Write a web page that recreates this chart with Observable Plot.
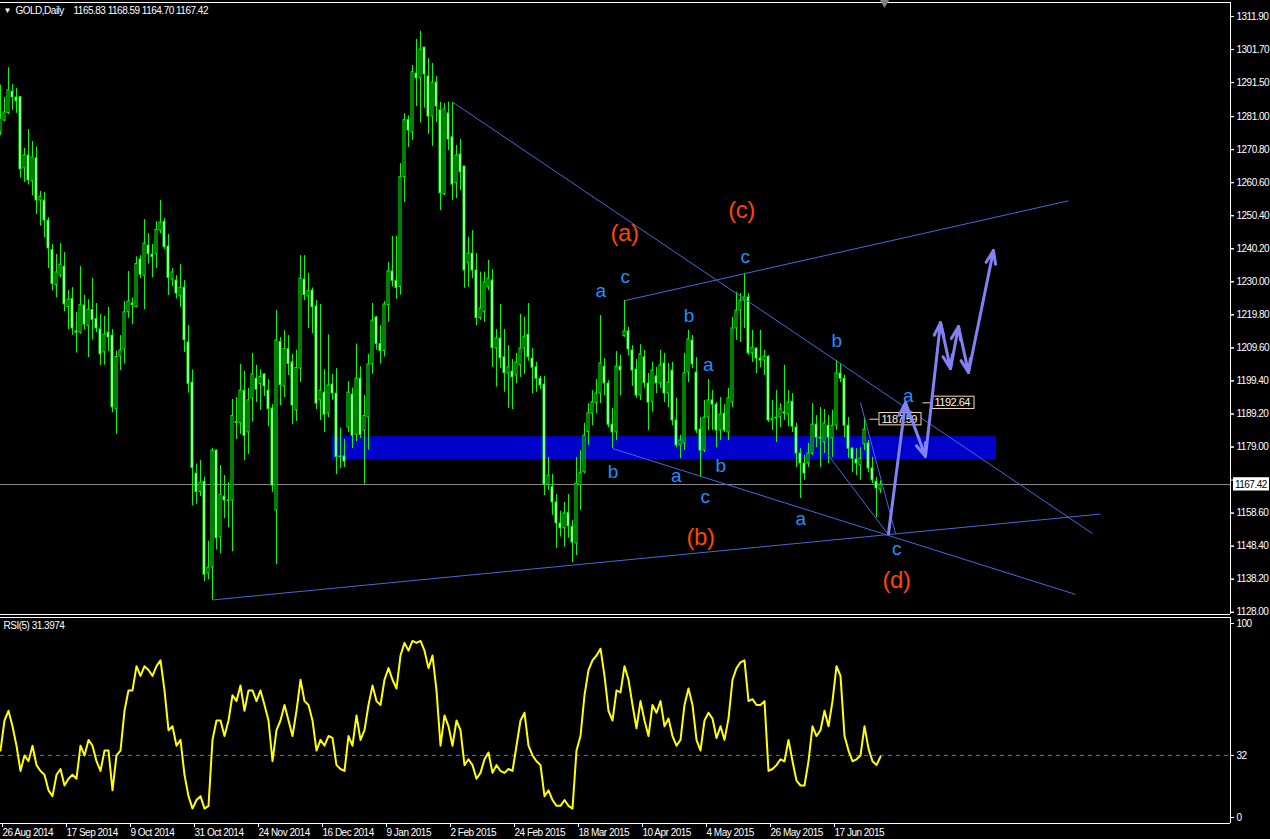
<!DOCTYPE html>
<html><head><meta charset="utf-8">
<script src="https://cdn.jsdelivr.net/npm/d3@7"></script>
<script src="https://cdn.jsdelivr.net/npm/@observablehq/plot@0.6"></script>
<style>
html,body{margin:0;padding:0;background:#000;}
#wrap{position:relative;width:1270px;height:839px;background:#000;overflow:hidden;}
#price{position:absolute;left:0;top:0;}
#rsi{position:absolute;left:0;top:616px;}
</style></head>
<body><div id="wrap"><div id="price"></div><div id="rsi"></div></div>
<script>
// ---- data (daily bars, index 0 = 26 Aug 2014) ----
const openP = [1276.1,1279.8,1282.1,1288.7,1286.9,1287.0,1265.0,1269.0,1261.0,1268.1,
1255.1,1255.1,1248.9,1239.8,1229.0,1231.9,1234.7,1222.2,1224.7,1214.7,
1214.3,1222.7,1216.3,1221.3,1218.5,1215.3,1208.2,1214.3,1213.4,1190.6,
1206.9,1209.1,1220.6,1223.3,1222.2,1236.9,1231.9,1241.2,1238.4,1238.5,
1245.8,1248.5,1240.9,1230.7,1230.4,1225.5,1228.2,1211.3,1198.9,1170.8,
1165.1,1168.3,1139.9,1141.8,1177.9,1151.1,1163.7,1162.5,1162.5,1186.7,
1186.3,1196.4,1183.5,1194.0,1200.1,1198.4,1201.4,1196.4,1190.9,1159.4,
1211.4,1197.7,1209.2,1205.1,1190.3,1203.2,1230.7,1225.5,1227.3,1222.4,
1193.4,1195.8,1189.3,1198.3,1195.5,1176.1,1176.1,1185.0,1195.2,1182.8,
1200.1,1184.1,1188.1,1204.5,1219.0,1210.8,1208.6,1222.8,1233.2,1230.3,
1228.4,1262.3,1279.9,1276.1,1294.3,1292.8,1302.3,1293.4,1281.0,1291.5,
1282.9,1257.0,1282.0,1274.6,1260.4,1269.3,1265.6,1235.7,1238.7,1233.5,
1218.8,1220.6,1228.3,1230.4,1209.4,1212.5,1206.7,1201.7,1202.3,1201.1,
1204.2,1209.4,1213.7,1206.3,1203.6,1200.1,1198.3,1167.4,1166.6,1161.9,
1155.4,1153.9,1158.6,1154.4,1149.2,1167.1,1171.2,1183.6,1189.3,1192.5,
1195.5,1203.8,1198.6,1185.9,1183.5,1203.8,1213.2,1214.7,1208.8,1202.9,
1194.9,1206.7,1198.6,1192.8,1200.8,1198.6,1204.8,1195.5,1202.6,1187.2,
1179.5,1180.1,1202.0,1211.9,1202.0,1184.4,1177.9,1188.1,1193.4,1192.1,
1184.1,1189.3,1183.5,1192.7,1215.6,1221.1,1224.2,1225.2,1207.9,1209.4,
1206.3,1205.7,1206.9,1187.2,1187.8,1188.1,1189.7,1189.0,1193.0,1185.0,
1177.0,1173.9,1173.9,1177.0,1185.9,1181.9,1180.4,1185.6,1181.6,1185.6,
1201.7,1200.1,1185.6,1178.5,1175.1,1173.3,1179.8,1180.1,1172.4,1168.3,
1165.83];
const highP = [1290.7,1286.9,1296.1,1290.9,1289.7,1287.2,1271.2,1277.0,1273.3,1271.5,
1257.9,1257.6,1249.8,1241.5,1238.4,1241.8,1239.0,1227.3,1228.2,1220.5,
1234.7,1225.8,1224.5,1231.0,1223.3,1219.9,1219.3,1222.1,1215.3,1208.6,
1213.4,1223.9,1233.2,1225.0,1237.7,1238.1,1249.2,1244.9,1241.5,1248.6,
1255.1,1249.5,1244.6,1234.1,1231.9,1235.3,1230.4,1216.5,1202.8,1173.8,
1174.8,1169.7,1149.9,1178.6,1178.1,1173.3,1170.2,1168.0,1193.7,1194.3,
1204.5,1202.3,1197.1,1207.9,1204.2,1202.9,1201.7,1199.8,1192.1,1221.1,
1212.8,1214.9,1213.4,1207.6,1208.9,1238.1,1238.1,1232.6,1228.1,1224.2,
1223.0,1202.9,1213.6,1201.4,1203.2,1184.9,1181.3,1199.2,1197.2,1210.8,
1203.8,1194.9,1207.6,1223.3,1219.3,1216.5,1223.9,1235.9,1244.0,1244.1,
1266.5,1281.9,1281.2,1296.8,1304.8,1307.3,1302.3,1298.9,1297.4,1293.4,
1285.4,1285.0,1285.4,1285.4,1272.1,1273.9,1265.6,1243.8,1245.8,1238.7,
1233.0,1233.0,1236.6,1233.8,1215.3,1223.0,1215.3,1210.3,1206.0,1207.9,
1219.9,1219.1,1223.3,1209.4,1205.1,1200.8,1200.8,1175.8,1170.5,1164.3,
1159.2,1161.9,1164.3,1156.3,1175.8,1177.9,1186.3,1192.4,1196.4,1199.8,
1219.6,1206.3,1199.5,1190.9,1208.5,1207.3,1224.2,1215.9,1210.3,1206.0,
1210.6,1208.8,1201.7,1205.2,1203.6,1208.8,1207.9,1204.8,1205.1,1194.0,
1182.6,1207.9,1215.0,1213.4,1206.6,1188.1,1193.4,1199.8,1196.4,1192.7,
1194.3,1192.1,1197.1,1219.0,1226.7,1226.4,1232.6,1226.4,1215.0,1209.7,
1215.0,1208.8,1207.2,1193.4,1196.4,1192.4,1204.2,1196.4,1195.5,1186.3,
1178.5,1176.4,1180.1,1192.4,1188.7,1191.2,1190.6,1188.7,1190.3,1205.7,
1204.8,1201.1,1188.1,1178.8,1178.5,1178.8,1187.8,1181.0,1175.8,1169.6,
1168.59];
const lowP = [1275.2,1279.5,1281.6,1282.9,1282.0,1262.0,1260.7,1259.9,1256.6,1250.8,
1247.2,1243.7,1234.1,1227.2,1225.1,1231.2,1220.8,1215.3,1213.5,1208.0,
1213.8,1215.1,1206.6,1212.0,1214.3,1204.2,1204.3,1208.5,1189.6,1183.0,
1202.6,1204.6,1218.7,1216.8,1222.2,1231.0,1221.4,1235.5,1231.2,1234.1,
1244.9,1240.0,1225.8,1228.5,1224.7,1222.1,1208.2,1195.6,1160.9,1161.3,
1163.7,1137.5,1138.1,1131.7,1147.2,1146.1,1156.9,1154.1,1146.7,1181.3,
1182.9,1174.8,1176.7,1186.7,1192.7,1190.3,1194.6,1185.3,1165.0,1142.7,
1191.8,1194.3,1201.1,1185.9,1186.9,1198.9,1224.2,1215.6,1214.0,1190.6,
1187.2,1183.5,1188.1,1193.4,1170.5,1172.4,1172.7,1183.5,1178.5,1180.7,
1181.6,1167.5,1178.0,1201.4,1208.9,1204.6,1206.8,1217.6,1228.4,1224.6,
1225.9,1254.5,1271.5,1273.6,1284.1,1279.0,1283.6,1275.5,1271.8,1279.2,
1252.0,1256.6,1270.5,1255.1,1255.7,1258.2,1228.0,1228.3,1231.0,1216.5,
1218.1,1217.5,1227.3,1203.6,1197.5,1203.2,1195.9,1190.9,1190.6,1198.6,
1200.5,1201.4,1205.5,1195.5,1195.9,1196.8,1164.0,1165.6,1157.9,1147.7,
1151.2,1148.1,1150.8,1143.3,1145.5,1159.4,1170.8,1179.5,1185.6,1189.3,
1192.4,1194.9,1185.0,1178.5,1181.0,1194.9,1212.9,1207.2,1197.7,1194.0,
1193.4,1197.2,1184.1,1189.7,1195.5,1197.1,1192.7,1191.2,1185.6,1178.8,
1175.4,1177.9,1198.9,1203.2,1183.2,1169.6,1177.3,1184.1,1184.1,1178.8,
1181.0,1183.5,1181.0,1191.2,1211.9,1211.3,1215.6,1207.3,1205.1,1201.7,
1203.5,1201.1,1186.6,1184.1,1180.4,1185.0,1187.2,1185.3,1183.5,1172.7,
1163.1,1168.7,1172.7,1176.4,1178.8,1172.7,1177.0,1173.9,1175.8,1184.1,
1198.9,1181.9,1175.5,1171.1,1170.2,1168.7,1177.9,1171.1,1167.7,1157.2,
1164.70];
const closeP = [1280.4,1282.3,1289.1,1286.9,1285.7,1264.7,1269.0,1261.3,1268.4,1255.1,
1256.3,1248.9,1240.3,1229.3,1232.9,1235.3,1223.0,1224.5,1215.6,1214.3,
1222.8,1216.8,1221.4,1218.2,1215.6,1207.6,1213.7,1212.8,1191.2,1206.8,
1208.8,1220.6,1223.9,1222.8,1235.5,1232.2,1241.8,1238.5,1237.7,1246.0,
1248.3,1240.7,1231.2,1232.9,1226.4,1228.2,1212.0,1198.5,1172.5,1165.1,
1168.0,1139.6,1141.8,1177.9,1150.8,1164.3,1162.5,1162.3,1188.6,1186.4,
1196.4,1182.4,1193.4,1201.4,1196.7,1200.6,1197.7,1190.7,1167.1,1211.9,
1198.1,1209.2,1204.6,1191.8,1203.4,1231.0,1225.9,1227.1,1222.1,1192.4,
1196.4,1189.0,1198.0,1195.5,1175.9,1175.9,1174.5,1195.8,1182.5,1200.1,
1182.7,1188.6,1204.5,1218.0,1210.8,1208.6,1223.0,1233.2,1230.3,1228.1,
1262.3,1279.9,1276.7,1294.7,1292.8,1301.7,1294.0,1281.0,1291.5,1284.1,
1257.3,1283.2,1273.9,1260.0,1269.0,1263.8,1233.5,1238.7,1233.5,1218.8,
1221.8,1229.8,1231.0,1209.5,1212.5,1206.4,1201.8,1203.6,1200.5,1205.1,
1209.4,1212.9,1206.7,1203.5,1200.1,1198.0,1167.4,1170.2,1161.9,1155.4,
1153.9,1158.5,1154.5,1149.5,1167.7,1170.9,1182.5,1189.4,1192.8,1195.5,
1204.8,1198.6,1185.9,1183.5,1203.8,1202.6,1214.7,1209.1,1202.6,1194.9,
1207.6,1198.7,1192.7,1202.6,1198.6,1204.2,1195.5,1198.9,1187.2,1179.5,
1181.0,1201.8,1212.2,1204.5,1184.1,1177.9,1188.1,1193.4,1192.1,1184.1,
1189.0,1184.1,1194.0,1215.6,1221.1,1224.2,1225.2,1207.9,1209.7,1206.3,
1205.7,1206.9,1187.2,1187.8,1188.1,1190.6,1189.3,1192.7,1185.3,1177.0,
1173.9,1170.8,1177.0,1185.9,1181.9,1181.6,1186.3,1181.9,1185.6,1201.7,
1200.1,1185.6,1178.5,1175.4,1173.9,1175.4,1184.4,1172.4,1168.7,1166.2,
1167.42];
const rsi5 = [34.5,50,55,47,37,24,32,29,37,27,
24,22,14,11,22,25,16.5,20,22,20,
37,32,40,37,29,24,34.5,34.5,14,32,
34.5,55,65.5,65.5,78,73,78,76,73,78,
81,65.5,45,47,37,40,22,11,4.6,9,
11,4.6,6,40,50,50,42,50,63,60,
68,55,65.5,65.5,60,65.5,58,50,29,45,
50,58,50,42,55,71,60,58,50,34.5,
40,37,42,41,27,25,24,42,37,52.6,
40,45,58,68,60,58,71,77,71,66.5,
83.5,90,86,91,90,91,86,77,83.5,65.5,
37,52.6,47,37,50,45,27,30,27,20,
23,30,33.5,23,27,24,23,25,24,37,
50,54,37,32,29,27,11,14,9,6,
6,9,6,4.6,34.5,42,63,76,81,83.5,
87,73,55,50,65.5,64.5,78,71,58,46,
60,50,42,58,54,60,47,51,42,37,
40,58,66.5,58,40,34.5,50,54,51,41,
47,40,51,71,77,80,81,60,61,58,
58,60,24,25,27,30,29,40,29,19,
16.5,16.5,29,47,42,45,55,47,60,78,
73,42,34.5,29,30,32,47,35.5,29,27,
31.4];
const dateLabels = ["26 Aug 2014","17 Sep 2014","9 Oct 2014","31 Oct 2014","24 Nov 2014","16 Dec 2014","9 Jan 2015","2 Feb 2015","24 Feb 2015","18 Mar 2015","10 Apr 2015","4 May 2015","26 May 2015","17 Jun 2015"];
const dateTickBars = [0,16,32,48,64,80,96,112,128,144,160,176,192,208];
const priceTicks = [1128.00,1138.20,1148.40,1158.60,1168.80,1179.00,1189.20,1199.40,1209.60,1219.80,1230.00,1240.20,1250.40,1260.60,1270.80,1281.00,1291.50,1301.70,1311.90];
const rsiTicks = [0,32,100];
const rsiLevel = 32;
const lastPrice = 1167.42;
const titleText = "GOLD,Daily";
const titleValues = "1165.83 1168.59 1164.70 1167.42";
const rsiTitle = "RSI(5) 31.3974";
// analysis objects (bar index / price)
const zone = [{i1: 83, i2: 249, p1: 1175.1, p2: 1182.2}];
const trendLines = [
  {i1: 113.1, p1: 1285.4, i2: 273.0, p2: 1152.3},
  {i1: 53.1, p1: 1131.8, i2: 275.0, p2: 1158.3},
  {i1: 156.1, p1: 1224.2, i2: 267.0, p2: 1255.0},
  {i1: 153.1, p1: 1178.5, i2: 268.75, p2: 1133.5},
  {i1: 215.0, p1: 1192.7, i2: 223.75, p2: 1152.3},
  {i1: 207.0, p1: 1176.4, i2: 221.75, p2: 1152.3}
];
const arrowPath = [
  {i: 222, p: 1152.3}, {i: 226.25, p: 1192.7}, {i: 231.25, p: 1176.1}, {i: 235, p: 1217.4},
  {i: 237.5, p: 1203.2}, {i: 239.5, p: 1216.2}, {i: 242, p: 1202.0}, {i: 248.25, p: 1239.7}
];
const waveBig = [
  {t: "(a)", i: 156, p: 1245.0}, {t: "(c)", i: 185.25, p: 1252.0},
  {t: "(b)", i: 175, p: 1151.0}, {t: "(d)", i: 224, p: 1137.8}
];
const waveSmall = [
  {t: "a", i: 150, p: 1227.3}, {t: "c", i: 156.1, p: 1231.6}, {t: "b", i: 172.1, p: 1219.6},
  {t: "a", i: 176.9, p: 1204.5}, {t: "c", i: 186.1, p: 1237.8}, {t: "b", i: 209, p: 1211.8},
  {t: "a", i: 226.9, p: 1194.9}, {t: "b", i: 153.1, p: 1171.4}, {t: "a", i: 168.9, p: 1170.2},
  {t: "b", i: 180, p: 1173.3}, {t: "c", i: 176.1, p: 1163.5}, {t: "a", i: 200, p: 1156.9},
  {t: "c", i: 224, p: 1147.6}
];
const priceTags = [
  {i: 219.75, p: 1187.59, t: "1187.59"},
  {i: 233.0, p: 1192.64, t: "1192.64"}
];

// ---- build ----
const bars = closeP.map((c, i) => ({i, o: openP[i], h: highP[i], l: lowP[i], c, r: rsi5[i], bear: c < openP[i]}));
const XMAX = 307.5;
const FONT = "Liberation Sans, Arial, sans-serif";
const STYLE = {background: "#000", color: "#fff", fontFamily: FONT, fontSize: "10px", letterSpacing: "-0.5px", overflow: "visible"};
const segs = arrowPath.slice(1).map((d, k) => ({i1: arrowPath[k].i, p1: arrowPath[k].p, i2: d.i, p2: d.p}));
const YTOP = 1316.22, YBOT = 1127.3;
// the 1168.80 label sits under the last-price box on the reference; keep its tick only
const labelledTicks = priceTicks.filter(p => Math.abs(p - lastPrice) > 3);

const pricePlot = Plot.plot({
  width: 1270, height: 616, marginLeft: 0, marginRight: 40, marginTop: 2, marginBottom: 2,
  style: STYLE,
  x: {domain: [0, XMAX], axis: null},
  y: {domain: [YBOT, YTOP], axis: null},
  marks: [
    Plot.rect(zone, {x1: "i1", x2: "i2", y1: "p1", y2: "p2", fill: "#0000cd"}),
    Plot.ruleY([lastPrice], {stroke: "#8c8c8c"}),
    Plot.ruleX(bars, {x: "i", y1: "l", y2: "h", stroke: "#00ff00"}),
    Plot.rect(bars, {x1: d => d.i - 0.25, x2: d => d.i + 0.25, y1: "o", y2: "c",
      fill: d => d.bear ? "#ffffff" : "#000000", stroke: "#00ff00", strokeWidth: 1}),
    Plot.link(trendLines, {x1: "i1", y1: "p1", x2: "i2", y2: "p2", stroke: "#4169e1", strokeWidth: 1}),
    Plot.link(priceTags, {x1: d => d.i - 2.5, x2: d => d.i - 0.25, y1: "p", y2: "p", stroke: "#f5deb3"}),
    Plot.rect(priceTags, {x1: "i", x2: d => d.i + 10.5, y1: d => d.p - 1.9, y2: d => d.p + 1.9, fill: "#000", stroke: "#f5deb3"}),
    Plot.text(priceTags, {x: d => d.i + 0.5, y: "p", text: "t", fill: "#fff8e8", textAnchor: "start", fontSize: 11}),
    Plot.arrow(segs, {x1: "i1", y1: "p1", x2: "i2", y2: "p2", stroke: "#8282f5", strokeWidth: 3, headLength: 7, headAngle: 40}),
    Plot.text(waveBig, {x: "i", y: "p", text: "t", fill: "#ff4500", fontSize: 24, fontFamily: FONT, style: "letter-spacing:0"}),
    Plot.text(waveSmall, {x: "i", y: "p", text: "t", fill: "#1e90ff", fontSize: 19, fontFamily: FONT}),
    // frame
    Plot.ruleY([YTOP], {stroke: "#fff"}),
    Plot.ruleY([YBOT], {stroke: "#fff"}),
    Plot.ruleX([XMAX], {stroke: "#fff"}),
    Plot.axisY(priceTicks, {anchor: "right", tickSize: 3, tickPadding: 3, tickFormat: () => "", label: null, stroke: "#fff"}),
    Plot.axisY(labelledTicks, {anchor: "right", tickSize: 3, tickPadding: 3, tickFormat: d => d.toFixed(2), label: null, fill: "#fff", stroke: "#fff"}),
    Plot.rect([lastPrice], {x1: 308.25, x2: 317.25, y1: d => d - 2.0, y2: d => d + 2.1, fill: "#fff"}),
    Plot.text([lastPrice], {x: 308.6, y: d => d, text: d => d.toFixed(2), fill: "#000", textAnchor: "start"}),
    Plot.dot([{i: 221, p: YTOP}], {x: "i", y: "p", symbol: "triangle", r: 3.5, fill: "#808080", rotate: 180}),
    Plot.text(["\u25BC"], {frameAnchor: "top-left", dx: 3, dy: 8, lineAnchor: "middle", textAnchor: "start", fill: "#fff", fontSize: 8}),
    Plot.text([titleText], {frameAnchor: "top-left", dx: 15, dy: 8, lineAnchor: "middle", textAnchor: "start", fill: "#fff"}),
    Plot.text([titleValues], {frameAnchor: "top-left", dx: 73, dy: 8, lineAnchor: "middle", textAnchor: "start", fill: "#fff"})
  ]
});
document.getElementById("price").appendChild(pricePlot);

const RTOP = 103.09, RBOT = -3.09;
const rsiPlot = Plot.plot({
  width: 1270, height: 223, marginLeft: 0, marginRight: 40, marginTop: 1, marginBottom: 16,
  style: STYLE,
  x: {domain: [0, XMAX], axis: null},
  y: {domain: [RBOT, RTOP], axis: null},
  marks: [
    Plot.ruleY([rsiLevel], {stroke: "#5070d8", strokeDasharray: "4,4"}),
    Plot.line(bars, {x: "i", y: "r", stroke: "#ffff00", strokeWidth: 2}),
    Plot.ruleY([RTOP], {stroke: "#fff"}),
    Plot.ruleY([RBOT], {stroke: "#fff"}),
    Plot.ruleX([XMAX], {stroke: "#fff"}),
    Plot.axisY(rsiTicks, {anchor: "right", tickSize: 3, tickPadding: 3, label: null, fill: "#fff", stroke: "#fff"}),
    Plot.axisX(dateTickBars, {anchor: "bottom", tickSize: 4, tickPadding: 1, label: null,
      tickFormat: d => dateLabels[dateTickBars.indexOf(d)], textAnchor: "start", dx: 2, fill: "#fff", stroke: "#fff"}),
    Plot.text([rsiTitle], {frameAnchor: "top-left", dx: 3, dy: 8, lineAnchor: "middle", textAnchor: "start", fill: "#fff"})
  ]
});
document.getElementById("rsi").appendChild(rsiPlot);
</script>
</body></html>
